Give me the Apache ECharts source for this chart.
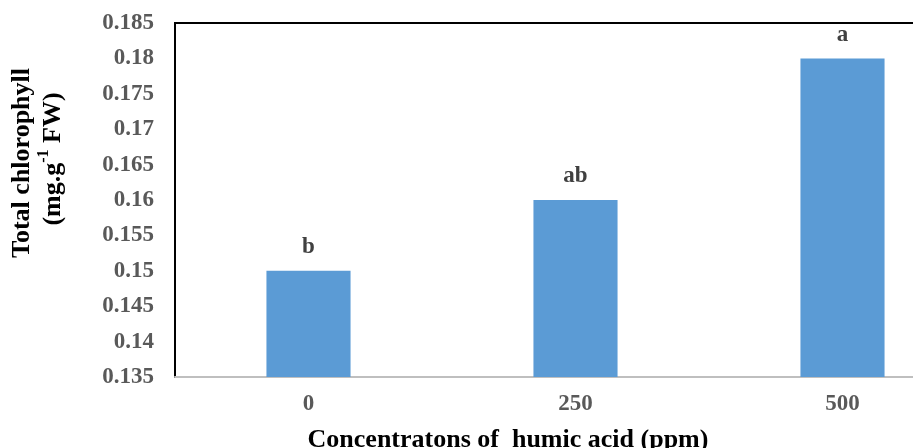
<!DOCTYPE html>
<html>
<head>
<meta charset="utf-8">
<script src="https://cdn.jsdelivr.net/npm/echarts@6/dist/echarts.min.js"></script>
<style>html,body{margin:0;padding:0;background:#fff}#c{width:913px;height:448px}</style>
</head>
<body>
<div id="c"></div>
<script>
const categories = ['0', '250', '500'];
const values = [0.15, 0.16, 0.18];
const letters = ['b', 'ab', 'a'];
const yMin = 0.135, yMax = 0.185, yStep = 0.005;
const xTitle = 'Concentratons of  humic acid (ppm)';

const FONT = '"Liberation Serif", "Times New Roman", serif';
const chart = echarts.init(document.getElementById('c'));
chart.setOption({
  animation: false,
  backgroundColor: '#fff',
  grid: { left: 175, top: 23, width: 801, bottom: 71, show: true, borderColor: '#000', borderWidth: 2,
    containLabel: false, outerBoundsMode: 'none' },
  xAxis: {
    type: 'category', data: categories,
    axisLine: { lineStyle: { color: '#bfbfbf', width: 2 } },
    axisTick: { show: false },
    axisLabel: { color: '#595959', fontFamily: FONT, fontWeight: 'bold', fontSize: 23, margin: 16 }
  },
  yAxis: {
    type: 'value', min: yMin, max: yMax, interval: yStep,
    axisLine: { show: false }, axisTick: { show: false }, splitLine: { show: false },
    axisLabel: { color: '#595959', fontFamily: FONT, fontWeight: 'bold', fontSize: 23, margin: 21,
      formatter: v => String(+v.toFixed(3)) }
  },
  series: [{
    type: 'bar', data: values, barCategoryGap: '68.5%',
    itemStyle: { color: '#5b9bd5' },
    label: { show: true, position: 'top', distance: 12, color: '#404040', fontFamily: FONT, fontWeight: 'bold', fontSize: 23,
      formatter: p => letters[p.dataIndex] }
  }],
  graphic: [
    { type: 'text', x: 22, y: 163, rotation: Math.PI / 2,
      style: { text: 'Total chlorophyll', fill: '#000', font: 'bold 26px ' + FONT, textAlign: 'center', textVerticalAlign: 'middle' } },
    { type: 'text', x: 51, y: 159, rotation: Math.PI / 2,
      style: { text: '{a|(mg.g}{s|-1}{a| FW)}', textAlign: 'center', textVerticalAlign: 'middle',
        rich: {
          a: { fill: '#000', fontFamily: FONT, fontWeight: 'bold', fontSize: 26, lineHeight: 30, verticalAlign: 'bottom' },
          s: { fill: '#000', fontFamily: FONT, fontWeight: 'bold', fontSize: 16, lineHeight: 30, verticalAlign: 'top', padding: [0, 0, 9, 0] }
        } } },
    { type: 'text', x: 508, y: 427,
      style: { text: xTitle, fill: '#000', font: 'bold 26px ' + FONT, textAlign: 'center', textVerticalAlign: 'top' } }
  ]
});
</script>
</body>
</html>
